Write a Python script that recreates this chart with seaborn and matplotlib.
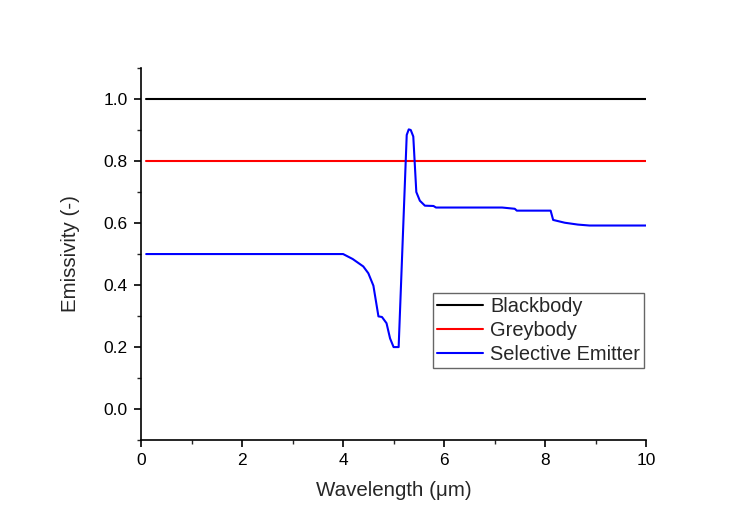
import matplotlib
matplotlib.use("Agg")
import matplotlib.pyplot as plt
import seaborn as sns
import pandas as pd
from matplotlib.ticker import MultipleLocator

# Data
bb_x = [0.1, 10.0]
bb_y = [1.0, 1.0]
gb_x = [0.1, 10.0]
gb_y = [0.8, 0.8]
se_x = [0.1, 4.0, 4.19, 4.40, 4.50, 4.60, 4.70, 4.77, 4.86, 4.93, 5.0, 5.10,
        5.26, 5.30, 5.34, 5.39, 5.45, 5.52, 5.62, 5.79, 5.84, 7.15, 7.40, 7.44,
        8.11, 8.16, 8.39, 8.65, 8.88, 10.0]
se_y = [0.5, 0.5, 0.484, 0.460, 0.438, 0.398, 0.299, 0.297, 0.277, 0.228, 0.2, 0.2,
        0.884, 0.902, 0.900, 0.879, 0.700, 0.672, 0.656, 0.655, 0.650, 0.650, 0.646, 0.640,
        0.640, 0.610, 0.601, 0.595, 0.592, 0.592]

sns.set_style("ticks")
plt.rcParams['font.family'] = ['Liberation Sans', 'DejaVu Sans']

fig = plt.figure(figsize=(7.35, 5.19), dpi=100)
ax = fig.add_axes([0.192, 0.152, 0.687, 0.717])

sns.lineplot(x=bb_x, y=bb_y, ax=ax, color='black', lw=1.5, label='Blackbody')
sns.lineplot(x=gb_x, y=gb_y, ax=ax, color='#ff0000', lw=1.5, label='Greybody')
sns.lineplot(x=se_x, y=se_y, ax=ax, color='#0000ff', lw=1.5, label='Selective Emitter',
             sort=False, estimator=None)

ax.set_xlim(0, 10)
ax.set_ylim(-0.1, 1.1)
ax.xaxis.set_major_locator(MultipleLocator(2))
ax.xaxis.set_minor_locator(MultipleLocator(1))
ax.yaxis.set_major_locator(MultipleLocator(0.2))
ax.yaxis.set_minor_locator(MultipleLocator(0.1))
ax.set_yticks([0.0, 0.2, 0.4, 0.6, 0.8, 1.0])
ax.set_yticklabels(['0.0', '0.2', '0.4', '0.6', '0.8', '1.0'])
ax.tick_params(which='major', direction='out', length=5, width=1.2, labelsize=12.5,
               colors='black', pad=4.5)
ax.tick_params(which='minor', direction='out', length=3, width=1.0)
for s in ['top', 'right']:
    ax.spines[s].set_visible(False)
for s in ['left', 'bottom']:
    ax.spines[s].set_linewidth(1.2)
    ax.spines[s].set_color('black')

ax.set_xlabel('Wavelength (μm)', fontsize=14.8, labelpad=9)
ax.set_ylabel('Emissivity (-)', fontsize=14.8, labelpad=17)

leg = ax.legend(loc='lower right', bbox_to_anchor=(0.996, 0.194), fontsize=14.4,
                fancybox=False, frameon=True, edgecolor='#666666', framealpha=1,
                handlelength=2.3, handletextpad=0.35, borderpad=0.2, labelspacing=0.26,
                borderaxespad=0)
leg.get_frame().set_linewidth(1.0)

fig.savefig('out.png', dpi=100)
